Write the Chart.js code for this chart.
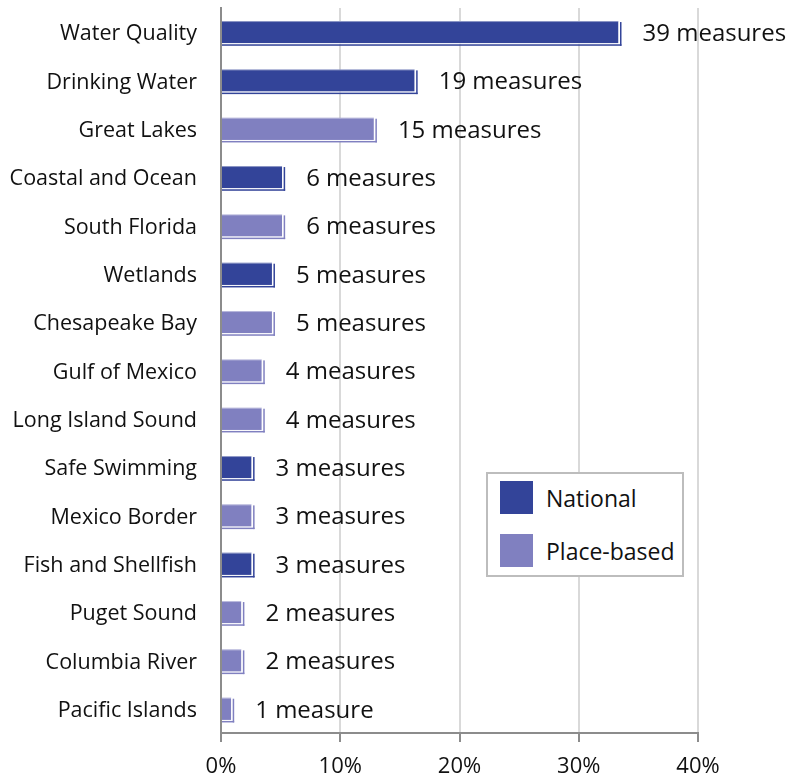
<!DOCTYPE html>
<html>
<head>
<meta charset="utf-8">
<script src="https://cdn.jsdelivr.net/npm/chart.js@4.4.1/dist/chart.umd.min.js"></script>
<style>
  html, body { margin: 0; padding: 0; background: #fff; }
  #wrap { position: relative; width: 797px; height: 777px; }
  #legendBox {
    position: absolute; left: 486px; top: 472px; width: 198px; height: 105px;
    border: 2px solid #bdbdbd; background: #fff; box-sizing: border-box;
    font-family: "Open Sans", Lato, sans-serif; font-size: 23px; color: #111;
  }
  .item { position: absolute; left: 12px; display: flex; align-items: center; }
  .sw { width: 33px; height: 33px; margin-right: 13px; }
</style>
</head>
<body>
<div id="wrap">
  <canvas id="c" width="797" height="777"></canvas>
  <div id="legendBox"></div>
</div>
<script>
// Measure counts per water program area
const categories = [
  "Water Quality", "Drinking Water", "Great Lakes", "Coastal and Ocean",
  "South Florida", "Wetlands", "Chesapeake Bay", "Gulf of Mexico",
  "Long Island Sound", "Safe Swimming", "Mexico Border", "Fish and Shellfish",
  "Puget Sound", "Columbia River", "Pacific Islands"
];
const measureCounts = [39, 19, 15, 6, 6, 5, 5, 4, 4, 3, 3, 3, 2, 2, 1];
const programType = ["N", "N", "P", "N", "P", "N", "P", "P", "P", "N", "P", "N", "P", "P", "P"];
const seriesNames = ["National", "Place-based"];
const xTicks = [0, 10, 20, 30, 40];

const colors = { N: "#334499", P: "#8080c0" };
const FONT = "'Open Sans', Lato, sans-serif";

// Share of all measures, in percent
const totalMeasures = measureCounts.reduce((a, b) => a + b, 0);
const share = measureCounts.map(c => c / totalMeasures * 100);

const nationalData = share.map((v, i) => programType[i] === "N" ? v : null);
const placeData = share.map((v, i) => programType[i] === "P" ? v : null);

// Legend
const legendBox = document.getElementById("legendBox");
[["N", 7], ["P", 60]].forEach(([k, top], idx) => {
  const d = document.createElement("div");
  d.className = "item";
  d.style.top = top + "px";
  d.innerHTML = '<div class="sw" style="background:' + colors[k] + '"></div><span>' + seriesNames[idx] + '</span>';
  legendBox.appendChild(d);
});

// Offset outline on the right and bottom of each bar, plus the count label
const barDecor = {
  id: "barDecor",
  afterDatasetsDraw(chart) {
    const ctx = chart.ctx;
    ctx.save();
    chart.data.datasets.forEach((ds, di) => {
      const meta = chart.getDatasetMeta(di);
      meta.data.forEach((bar, i) => {
        if (ds.data[i] === null) return;
        const left = bar.base, right = bar.x;
        const top = bar.y - bar.height / 2, bottom = bar.y + bar.height / 2;
        ctx.fillStyle = "#ffffff";
        ctx.fillRect(left, bottom, right - left + 2, 1);
        ctx.fillRect(right, top, 1, bottom - top + 1);
        ctx.fillStyle = ds.backgroundColor;
        ctx.fillRect(left, bottom + 1, right - left + 3, 1.5);
        ctx.fillRect(right + 1.5, top + 1, 1.5, bottom - top + 1.5);
        ctx.fillStyle = "rgba(255,255,255,0.45)";
        ctx.fillRect(left, top, right - left, 1);

        const n = measureCounts[i];
        ctx.fillStyle = "#111";
        ctx.font = "24px " + FONT;
        ctx.textAlign = "left";
        ctx.textBaseline = "middle";
        ctx.fillText(n + (n === 1 ? " measure" : " measures"), right + 24, bar.y + 2);
      });
    });
    ctx.restore();
  }
};

new Chart(document.getElementById("c"), {
  type: "bar",
  data: {
    labels: categories,
    datasets: [
      { label: seriesNames[0], data: nationalData, backgroundColor: colors.N },
      { label: seriesNames[1], data: placeData, backgroundColor: colors.P }
    ]
  },
  options: {
    indexAxis: "y",
    responsive: false,
    animation: false,
    skipNull: true,
    barPercentage: 0.46,
    categoryPercentage: 1,
    layout: { padding: { top: 8, right: 99, left: 0, bottom: 0 } },
    plugins: { legend: { display: false }, tooltip: { enabled: false } },
    scales: {
      x: {
        min: 0, max: 40,
        afterBuildTicks(scale) { scale.ticks = xTicks.map(v => ({ value: v })); },
        afterFit(scale) {
          scale.height = 44;
          scale.paddingLeft = 0; scale.paddingRight = 0;
        },
        grid: {
          color: (c) => c.index === 0 ? "rgba(0,0,0,0)" : "#d9d9d9",
          lineWidth: 2,
          drawTicks: true,
          tickLength: 9,
          tickColor: "#8c8c8c"
        },
        border: { display: true, color: "#8c8c8c", width: 2 },
        ticks: {
          callback: v => v + "%",
          color: "#111",
          font: { family: FONT, size: 22 },
          padding: 12,
          maxRotation: 0
        }
      },
      y: {
        afterFit(scale) {
          scale.width = 221;
          scale.paddingTop = 0; scale.paddingBottom = 0;
        },
        grid: { display: false },
        border: { display: true, color: "#8c8c8c", width: 2 },
        ticks: {
          color: "#111",
          font: { family: FONT, size: 21.5 },
          padding: 16,
          labelOffset: 2
        }
      }
    }
  },
  plugins: [barDecor]
});
</script>
</body>
</html>
